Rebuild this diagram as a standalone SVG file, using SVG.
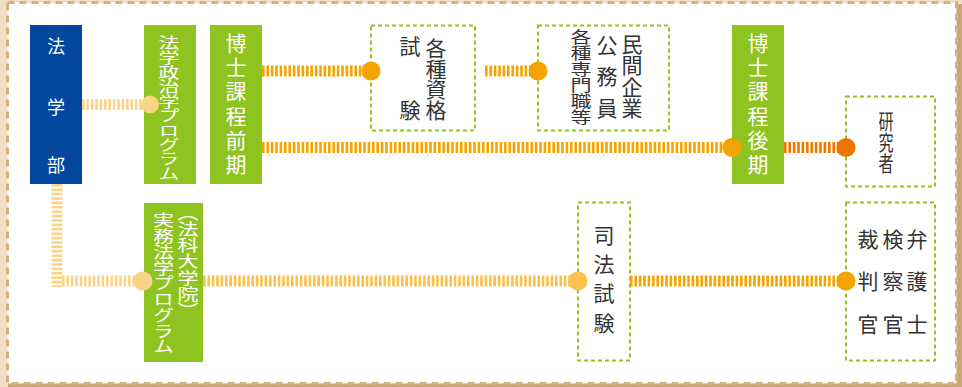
<svg xmlns="http://www.w3.org/2000/svg" width="962" height="387" viewBox="0 0 962 387">
<style>
.bg{fill:#efdfc6}
.sh{fill:#c9a676}
.panel{fill:#fff;stroke:#d6b179;stroke-width:3;stroke-dasharray:7 5}
.blue{fill:#00479d}
.green{fill:#8fc31f}
.dbox{fill:#fff;stroke:#8fc31f;stroke-width:2;stroke-dasharray:4 3}
.w{fill:#fff;font-family:"Noto Sans CJK JP","Noto Sans",sans-serif;text-anchor:middle;dominant-baseline:central;font-size:18px}
.vw{fill:#fff;font-family:"Noto Sans CJK JP","Noto Sans",sans-serif;writing-mode:vertical-rl;font-size:21px}
.vk{fill:#333;font-family:"Noto Sans CJK JP","Noto Sans",sans-serif;writing-mode:vertical-rl;font-size:21px}
.ln{fill:none;stroke-width:11;stroke-dasharray:2.6 1.8}
</style>
<rect class="bg" x="0" y="0" width="962" height="387"/>
<rect class="sh" x="955" y="4" width="7" height="383"/>
<rect class="sh" x="8" y="382" width="954" height="5"/>
<rect class="panel" x="7.5" y="2.5" width="949" height="381"/>

<g id="n-hougakubu">
  <rect class="blue" x="30" y="25" width="52" height="159"/>
  <text class="w" x="56" y="45">法</text>
  <text class="w" x="56" y="106">学</text>
  <text class="w" x="56" y="164">部</text>
</g>

<g id="n-seiji">
  <rect class="green" x="144" y="25" width="52" height="159"/>
  <text class="vw" transform="translate(169 35.2) scale(1 .7)" letter-spacing="-0.4">法学<tspan dx="-7" font-size="13">·</tspan><tspan x="0" y="42">政治学プログラム</tspan></text>
</g>

<g id="n-zenki">
  <rect class="green" x="210" y="25" width="52" height="159"/>
  <text class="vw" x="236" y="32.5" letter-spacing="3.2">博士課程前期</text>
</g>

<g id="n-shikaku">
  <rect class="dbox" x="371" y="25.5" width="104" height="105"/>
  <text class="vk" x="436" y="37.5" letter-spacing="-0.3">各種資格</text>
  <text class="vk" x="410" y="35.5">試</text>
  <text class="vk" x="410" y="99.5">験</text>
</g>

<g id="n-minkan">
  <rect class="dbox" x="538" y="25.5" width="131" height="105"/>
  <text class="vk" x="632" y="33.5" letter-spacing="0.3">民間企業</text>
  <text class="vk" x="607" y="34.5" letter-spacing="10.5">公務員</text>
  <text class="vk" transform="translate(581 29.6) scale(1 .75)" letter-spacing="0.1">各種専門職等</text>
</g>

<g id="n-kouki">
  <rect class="green" x="732" y="25" width="52" height="159"/>
  <text class="vw" x="758" y="32.5" letter-spacing="3.2">博士課程後期</text>
</g>

<g id="n-kenkyusha">
  <rect class="dbox" x="846" y="96.5" width="89" height="90"/>
  <text class="vk" transform="translate(886 110.5) scale(.72 1)">研究者</text>
</g>

<g id="n-jitsumu">
  <rect class="green" x="144" y="203" width="59" height="159"/>
  <text class="vw" transform="translate(188 212) scale(1 .78)" font-size="19" style="font-feature-settings:'vpal'">（法科大学院）</text>
  <text class="vw" transform="translate(163.5 212) scale(1 .78)" font-size="19" letter-spacing="-0.8">実務法学プログラム</text>
</g>

<g id="n-shihou">
  <rect class="dbox" x="578" y="202.5" width="52" height="158"/>
  <text class="vk" x="604" y="224.5" letter-spacing="8.2">司法試験</text>
</g>

<g id="n-houso">
  <rect class="dbox" x="846" y="202.5" width="89" height="158"/>
  <text class="vk" x="917" y="228.5" letter-spacing="21.5">弁護士</text>
  <text class="vk" x="893" y="228.5" letter-spacing="21.5">検察官</text>
  <text class="vk" x="868" y="228.5" letter-spacing="21.5">裁判官</text>
</g>

<g id="connectors">
  <path class="ln" d="M82 104.5H150" stroke="#fcd487"/>
  <circle cx="150" cy="104.5" r="9" fill="#fbd384"/>
  <path class="ln" d="M57 184V287" stroke="#fcd487"/>
  <path class="ln" d="M62 281H143" stroke="#fcd487"/>
  <circle cx="143" cy="281" r="9.5" fill="#fbd384"/>
  <path class="ln" d="M262 71H371" stroke="#f5a300"/>
  <circle cx="371" cy="71" r="9.5" fill="#f5a300"/>
  <path class="ln" d="M485 71H538" stroke="#f5a300"/>
  <circle cx="538" cy="71" r="9.5" fill="#f5a300"/>
  <path class="ln" d="M262 147.5H732" stroke="#f5a300"/>
  <circle cx="732" cy="147.5" r="9.5" fill="#f5a300"/>
  <path class="ln" d="M784 147.5H846" stroke="#ee7700"/>
  <circle cx="846" cy="147.5" r="9.5" fill="#ec7500"/>
  <path class="ln" d="M203 281H578" stroke="#fbc04e"/>
  <circle cx="578" cy="281" r="9.5" fill="#fac14f"/>
  <path class="ln" d="M630 281H846" stroke="#f5a300"/>
  <circle cx="846" cy="281" r="9.5" fill="#f5a300"/>
</g>
</svg>
